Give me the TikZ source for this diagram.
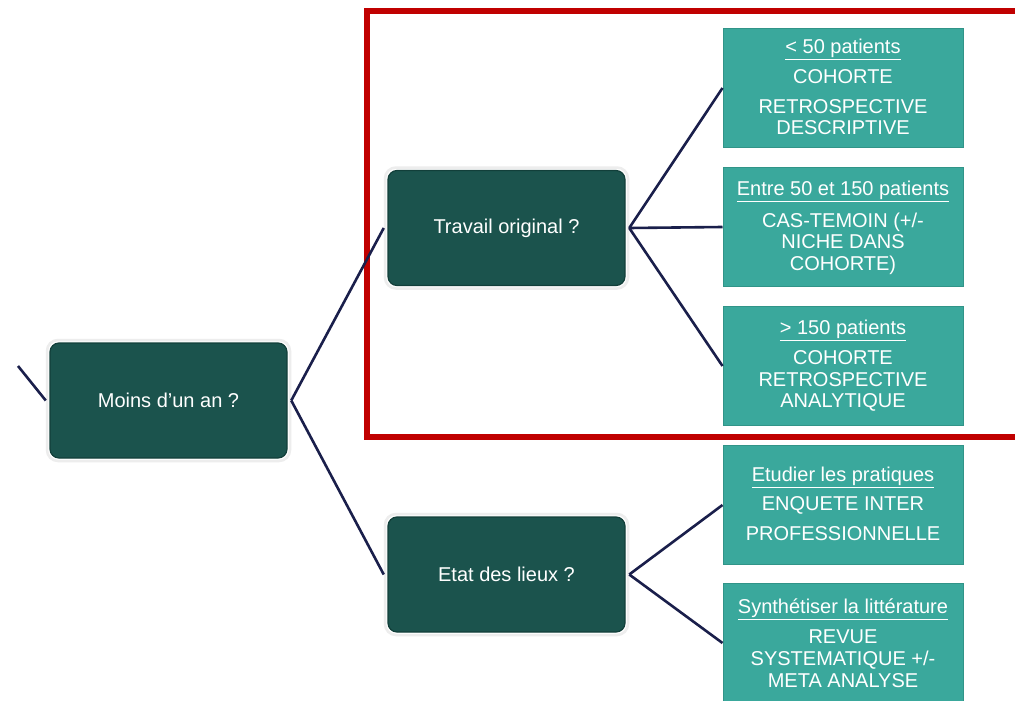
\documentclass[tikz,border=0pt]{standalone}
\usepackage{fontspec}
\setmainfont{Liberation Sans}
\definecolor{darkfill}{HTML}{1B534D}
\definecolor{darkedge}{HTML}{123F3A}
\definecolor{tealfill}{HTML}{3AA89C}
\definecolor{tealedge}{HTML}{319488}
\definecolor{navy}{HTML}{1A1F4B}
\definecolor{redframe}{HTML}{C00000}
\begin{document}
\begin{tikzpicture}[x=1pt,y=-1pt,
  glowbox/.style={draw=black!7,line width=2.5pt,fill=white,rounded corners=11pt,minimum width=243pt,minimum height=121pt,inner sep=0pt},
  darkbox/.style={draw=darkedge,line width=1.2pt,fill=darkfill,rounded corners=9pt,minimum width=237pt,minimum height=115pt,text=white,font=\fontsize{20}{22}\selectfont,inner sep=0pt},
  tealbox/.style={draw=tealedge,line width=1pt,fill=tealfill,minimum width=240pt,minimum height=119pt,inner sep=0pt},
  txt/.style={text=white,font=\fontsize{20}{22}\selectfont,inner sep=0pt,anchor=base},
  conn/.style={draw=navy,line width=2.6pt}]
\useasboundingbox (0,0) rectangle (1015,701);
\fill[white] (0,0) rectangle (1015,701);
% red frame
\draw[redframe,line width=5.5pt] (1030,11) -- (367,11) -- (367,437) -- (1030,437);
% glows
\node[glowbox] (moinsg) at (168.5,400.5) {};
\node[glowbox] (travailg) at (506.5,228) {};
\node[glowbox] (etatg) at (506.5,574.5) {};
% dark boxes
\node[darkbox] (moins) at (168.5,400.5) {Moins d’un an ?};
\node[darkbox] (travail) at (506.5,228) {Travail original ?};
\node[darkbox] (etat) at (506.5,574.5) {Etat des lieux ?};
% teal boxes
\node[tealbox] (b1) at (843,88) {};
\node[tealbox] (b2) at (843,227) {};
\node[tealbox] (b3) at (843,366) {};
\node[tealbox] (b4) at (843,505) {};
\node[tealbox] (b5) at (843,643) {};
% texts box1
\node[txt] (b1h) at (843,53.5) {\underline{< 50 patients}};
\node[txt] (b1a) at (843,83.5) {COHORTE};
\node[txt] (b1b) at (843,113.5) {RETROSPECTIVE};
\node[txt] (b1c) at (843,134.5) {DESCRIPTIVE};
% box2
\node[txt] (b2h) at (843,195.5) {\underline{Entre 50 et 150 patients}};
\node[txt] (b2a) at (843,227.5) {CAS-TEMOIN (+/-};
\node[txt] (b2b) at (843,248.5) {NICHE DANS};
\node[txt] (b2c) at (843,270.5) {COHORTE)};
% box3
\node[txt] (b3h) at (843,334.5) {\underline{> 150 patients}};
\node[txt] (b3a) at (843,364.5) {COHORTE};
\node[txt] (b3b) at (843,386.5) {RETROSPECTIVE};
\node[txt] (b3c) at (843,407.5) {ANALYTIQUE};
% box4
\node[txt] (b4h) at (843,481.5) {\underline{Etudier les pratiques}};
\node[txt] (b4a) at (843,510.5) {ENQUETE INTER};
\node[txt] (b4b) at (843,540.5) {PROFESSIONNELLE};
% box5
\node[txt] (b5h) at (843,613.5) {\underline{Synthétiser la littérature}};
\node[txt] (b5a) at (843,643.5) {REVUE};
\node[txt] (b5b) at (843,665.5) {SYSTEMATIQUE +/-};
\node[txt] (b5c) at (843,687.5) {META ANALYSE};
% connectors
\coordinate (lin) at (18,366);
\draw[conn] (lin) -- (moinsg.west);
\draw[conn] (moinsg.east) -- (travailg.west);
\draw[conn] (moinsg.east) -- (etatg.west);
\draw[conn] (travailg.east) -- (b1.west);
\draw[conn] (travailg.east) -- (b2.west);
\draw[conn] (travailg.east) -- (b3.west);
\draw[conn] (etatg.east) -- (b4.west);
\draw[conn] (etatg.east) -- (b5.west);
\end{tikzpicture}
\end{document}
